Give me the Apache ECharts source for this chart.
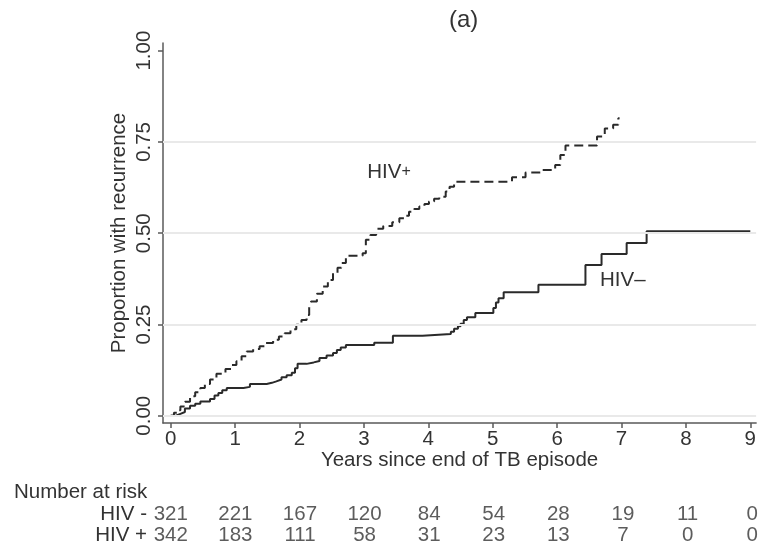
<!DOCTYPE html>
<html>
<head>
<meta charset="utf-8">
<script src="https://cdn.jsdelivr.net/npm/echarts@6/dist/echarts.min.js"></script>
<style>html,body{margin:0;padding:0;background:#fff}#c{width:759px;height:546px}</style>
</head>
<body>
<div id="c"></div>
<script>
// ---- data ----
const xTicks = [0, 1, 2, 3, 4, 5, 6, 7, 8, 9];
const yTicks = [0, 0.25, 0.5, 0.75, 1];
const yTickLabels = ['0.00', '0.25', '0.50', '0.75', '1.00'];
const gridValues = [0, 0.25, 0.5, 0.75];

// Kaplan-Meier style cumulative recurrence, HIV negative (solid)
const hivNeg = [
  [0,0],[0.08,0.005],[0.15,0.01],[0.22,0.02],[0.30,0.027],[0.38,0.033],[0.46,0.039],
  [0.61,0.046],[0.68,0.055],[0.74,0.062],[0.80,0.070],[0.87,0.076],[1.13,0.079],
  [1.23,0.087],[1.49,0.090],[1.57,0.094],[1.64,0.099],[1.72,0.105],[1.80,0.111],
  [1.88,0.118],[1.93,0.130],[1.97,0.142],[2.11,0.146],[2.22,0.150],[2.31,0.158],
  [2.42,0.165],[2.52,0.172],[2.58,0.180],[2.64,0.187],[2.72,0.194],[3.16,0.200],
  [3.45,0.219],[3.91,0.224],[4.35,0.230],[4.40,0.238],[4.46,0.245],[4.50,0.252],
  [4.55,0.262],[4.60,0.270],[4.73,0.281],[5.01,0.295],[5.05,0.310],[5.09,0.322],
  [5.17,0.338],[5.71,0.359],[6.44,0.413],[6.69,0.443],[7.08,0.473],[7.39,0.505],
  [9.0,0.505]
];
// HIV positive (dashed)
const hivPos = [
  [0,0],[0.05,0.008],[0.10,0.015],[0.15,0.025],[0.22,0.038],[0.30,0.053],[0.38,0.064],
  [0.46,0.076],[0.53,0.087],[0.61,0.099],[0.71,0.115],[0.85,0.128],[0.95,0.139],
  [1.02,0.149],[1.10,0.163],[1.18,0.176],[1.28,0.183],[1.38,0.190],[1.48,0.199],
  [1.59,0.208],[1.68,0.217],[1.77,0.226],[1.86,0.237],[1.95,0.249],[2.03,0.262],
  [2.11,0.276],[2.15,0.295],[2.18,0.313],[2.27,0.334],[2.36,0.354],[2.44,0.372],
  [2.52,0.391],[2.59,0.405],[2.65,0.418],[2.72,0.438],[2.98,0.445],[3.03,0.482],
  [3.10,0.495],[3.19,0.512],[3.30,0.520],[3.44,0.530],[3.55,0.541],[3.63,0.548],
  [3.70,0.559],[3.78,0.566],[3.86,0.573],[3.94,0.580],[4.01,0.587],[4.09,0.594],
  [4.17,0.600],[4.27,0.614],[4.33,0.627],[4.40,0.641],[5.30,0.653],[5.51,0.666],
  [5.76,0.673],[5.97,0.687],[6.05,0.714],[6.13,0.740],[6.62,0.765],[6.74,0.787],
  [6.87,0.797],[6.95,0.815],[6.97,0.815]
];

// Number at risk table
const riskRows = ['HIV -', 'HIV +'];
const riskTimes = [0, 1, 2, 3, 4, 5, 6, 7, 8, 9];
const riskNeg = [321, 221, 167, 120, 84, 54, 28, 19, 11, 0];
const riskPos = [342, 183, 111, 58, 31, 23, 13, 7, 0, 0];

// ---- chart ----
const FONT = '"Liberation Sans", Arial, sans-serif';
const FS = 20.5;
const TXT = '#333333';
const AX = '#5a5a5a';

const riskData = [];
riskTimes.forEach((t, i) => {
  riskData.push([t, riskRows[0], riskNeg[i]]);
  riskData.push([t, riskRows[1], riskPos[i]]);
});

const chart = echarts.init(document.getElementById('c'), null, {renderer: 'canvas'});
chart.setOption({
  animation: false,
  backgroundColor: '#fff',
  textStyle: {fontFamily: FONT, color: TXT},
  title: [
    {text: '(a)', left: 444, top: 3,
     textStyle: {fontFamily: FONT, fontSize: 24, fontWeight: 'normal', color: TXT}},
    {text: 'Number at risk', left: 9, top: 477,
     textStyle: {fontFamily: FONT, fontSize: FS, fontWeight: 'normal', color: TXT}}
  ],
  grid: [
    {left: 163, right: 1, top: 43, bottom: 123},
    {left: 163, right: 1, top: 504, height: 42}
  ],
  xAxis: [
    {
      gridIndex: 0, type: 'value', min: -0.12, max: 9.09,
      axisLine: {show: true, onZero: false, lineStyle: {color: AX, width: 1.5}},
      axisTick: {show: true, customValues: xTicks, length: 5, lineStyle: {color: AX, width: 1.5}},
      axisLabel: {customValues: xTicks, fontSize: FS, margin: 6, color: TXT, fontFamily: FONT},
      splitLine: {show: false},
      name: 'Years since end of TB episode', nameLocation: 'middle', nameGap: 27,
      nameMoveOverlap: false,
      nameTextStyle: {fontSize: FS, color: TXT, fontFamily: FONT}
    },
    {
      gridIndex: 1, type: 'value', min: -0.12, max: 9.09, show: false
    }
  ],
  yAxis: [
    {
      gridIndex: 0, type: 'value', min: -0.02, max: 1.021,
      axisLine: {show: true, onZero: false, lineStyle: {color: AX, width: 1.5}},
      axisTick: {show: true, customValues: yTicks, length: 5, lineStyle: {color: AX, width: 1.5}},
      axisLabel: {customValues: yTicks, rotate: 90, fontSize: FS, margin: 8, color: TXT, fontFamily: FONT,
        formatter: v => yTickLabels[yTicks.indexOf(Math.round(v * 100) / 100)] || ''},
      splitLine: {show: false},
      name: 'Proportion with recurrence', nameLocation: 'middle', nameGap: 33,
      nameMoveOverlap: false,
      nameTextStyle: {fontSize: FS, color: TXT, fontFamily: FONT}
    },
    {
      gridIndex: 1, type: 'category', data: riskRows, inverse: true,
      axisLine: {show: false}, axisTick: {show: false}, splitLine: {show: false},
      axisLabel: {interval: 0, fontSize: FS, margin: 16, color: TXT, fontFamily: FONT}
    }
  ],
  series: [
    {
      type: 'line', xAxisIndex: 0, yAxisIndex: 0, data: [], z: 1, silent: true,
      markLine: {
        silent: true, symbol: 'none', label: {show: false},
        lineStyle: {color: '#e9e9e9', width: 2, type: 'solid'},
        data: gridValues.map(v => ({yAxis: v}))
      }
    },
    {
      name: 'HIV-', type: 'line', step: 'end', xAxisIndex: 0, yAxisIndex: 0,
      data: hivNeg, showSymbol: false, symbol: 'none', z: 3,
      lineStyle: {color: '#2a2a2a', width: 2},
      markPoint: {
        symbol: 'circle', symbolSize: 0,
        label: {show: true, formatter: 'HIV–', fontSize: FS, color: TXT, fontFamily: FONT},
        data: [{coord: [7.02, 0.372]}]
      }
    },
    {
      name: 'HIV+', type: 'line', step: 'end', xAxisIndex: 0, yAxisIndex: 0,
      data: hivPos, showSymbol: false, symbol: 'none', z: 3,
      lineStyle: {color: '#2a2a2a', width: 2, type: [9, 5]},
      markPoint: {
        symbol: 'circle', symbolSize: 0,
        label: {show: true, formatter: 'HIV{p|+}', fontSize: FS, color: TXT, fontFamily: FONT,
          rich: {p: {fontSize: 16, color: TXT, fontFamily: FONT}}},
        data: [{coord: [3.39, 0.668]}]
      }
    },
    {
      type: 'scatter', xAxisIndex: 1, yAxisIndex: 1, symbolSize: 0,
      data: riskData,
      label: {show: true, position: 'inside', formatter: p => String(p.value[2]),
        fontSize: FS, color: TXT, fontFamily: FONT}
    }
  ]
});
</script>
</body>
</html>
